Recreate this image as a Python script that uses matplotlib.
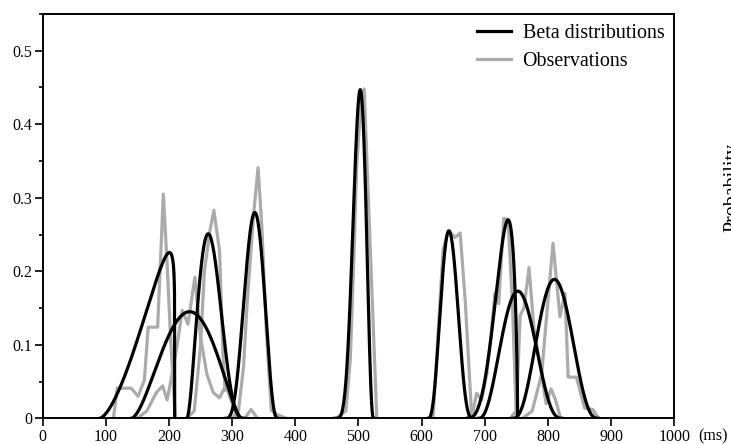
import numpy as np
import matplotlib
matplotlib.use("Agg")
import matplotlib.pyplot as plt
from matplotlib.ticker import MultipleLocator

# fitted beta components: support [lo, hi], shapes a/b, peak height
beta_lo = [90, 140, 228, 289, 462, 610, 672, 690, 744]
beta_hi = [209, 315, 320, 372, 524, 682, 752, 822, 880]
beta_a = [2.6, 2.8, 3.0, 4.5, 6.0, 4.0, 4.0, 3.6, 3.8]
beta_b = [1.12, 2.6, 4.4, 3.7, 3.6, 4.5, 1.7, 3.9, 3.95]
beta_peak = [0.2255, 0.145, 0.251, 0.280, 0.447, 0.255, 0.270, 0.173, 0.189]

# observed histograms (ms, probability)
obs1_ms = [112, 118, 140, 151, 161, 167, 182, 191, 197, 203, 210]
obs1_p = [0, 0.041, 0.041, 0.030, 0.052, 0.124, 0.124, 0.305, 0.21, 0.10, 0]
obs2_ms = [150, 165, 180, 190, 197, 205, 213, 221, 230, 241, 250, 260, 270, 280, 290, 300, 310]
obs2_p = [0, 0.01, 0.035, 0.044, 0.025, 0.06, 0.10, 0.147, 0.128, 0.192, 0.11, 0.06, 0.035, 0.028, 0.045, 0.02, 0]
obs3_ms = [228, 240, 250, 256, 265, 271, 280, 286, 289, 294, 299, 307, 320, 330, 340]
obs3_p = [0, 0.01, 0.10, 0.20, 0.256, 0.283, 0.228, 0.075, 0.038, 0.04, 0.029, 0, 0, 0.012, 0]
obs4_ms = [300, 310, 318, 323, 329, 334, 341, 347, 354, 362, 371, 386]
obs4_p = [0, 0.01, 0.07, 0.147, 0.22, 0.278, 0.341, 0.26, 0.12, 0.011, 0.005, 0]
obs5_ms = [465, 480, 487, 492, 497, 503, 509, 529]
obs5_p = [0, 0.01, 0.08, 0.20, 0.34, 0.42, 0.448, 0]
obs6_ms = [618, 634, 642, 653, 661, 669, 679]
obs6_p = [0, 0.229, 0.255, 0.246, 0.252, 0.16, 0.007]
obs7_ms = [672, 681, 687, 695, 703, 710, 716, 722, 730, 737, 744, 750]
obs7_p = [0, 0.008, 0.034, 0.025, 0.06, 0.115, 0.17, 0.156, 0.272, 0.27, 0.15, 0]
obs8_ms = [740, 750, 756, 762, 770, 778, 788, 797, 805, 812, 820]
obs8_p = [0, 0.01, 0.14, 0.15, 0.205, 0.12, 0.07, 0.02, 0.04, 0.025, 0]
obs9_ms = [760, 775, 790, 800, 808, 819, 827, 832, 845, 858, 871, 880]
obs9_p = [0, 0.01, 0.06, 0.16, 0.238, 0.138, 0.17, 0.056, 0.056, 0.014, 0.012, 0]

obs_ms = [obs1_ms, obs2_ms, obs3_ms, obs4_ms, obs5_ms, obs6_ms, obs7_ms, obs8_ms, obs9_ms]
obs_p = [obs1_p, obs2_p, obs3_p, obs4_p, obs5_p, obs6_p, obs7_p, obs8_p, obs9_p]

plt.rcParams['font.family'] = ['Liberation Serif', 'DejaVu Serif']

fig = plt.figure(figsize=(7.31, 4.44), dpi=100)
ax = fig.add_axes([0.0584, 0.0579, 0.864, 0.9106])

grey = '#ababab'
for i in range(len(obs_ms)):
    ax.plot(obs_ms[i], obs_p[i], color=grey, lw=2.3, zorder=2,
            label='Observations' if i == 0 else None)

for i in range(len(beta_lo)):
    lo, hi, a, b = beta_lo[i], beta_hi[i], beta_a[i], beta_b[i]
    x = np.linspace(lo, hi, 400)
    t = (x - lo) / (hi - lo)
    f = t ** (a - 1) * (1 - t) ** (b - 1)
    f = f / f.max() * beta_peak[i]
    ax.plot(x, f, color='black', lw=2.3, zorder=3,
            label='Beta distributions' if i == 0 else None)

ax.set_xlim(0, 1000)
ax.set_ylim(0, 0.55)
ax.xaxis.set_major_locator(MultipleLocator(100))
ax.yaxis.set_minor_locator(MultipleLocator(0.05))
ax.set_yticks([0, 0.1, 0.2, 0.3, 0.4, 0.5])
ax.set_yticklabels(['0', '0.1', '0.2', '0.3', '0.4', '0.5'])

ax.tick_params(axis='both', which='major', direction='out', length=5.5, width=1.2,
               labelsize=11.5, colors='black')
ax.tick_params(axis='x', pad=2)
ax.tick_params(axis='y', pad=2)
ax.tick_params(axis='y', which='minor', direction='out', length=3, width=1.2)
ax.tick_params(top=False, right=False)
for s in ax.spines.values():
    s.set_linewidth(1.4)

handles, labels = ax.get_legend_handles_labels()
order = [labels.index('Beta distributions'), labels.index('Observations')]
ax.legend([handles[j] for j in order], [labels[j] for j in order],
          loc='upper right', frameon=False, fontsize=14.4,
          handlelength=1.7, handletextpad=0.6, labelspacing=0.45,
          borderaxespad=0.1)

fig.text(0.955, 0.0175, '(ms)', ha='left', va='center', fontsize=11.5)
fig.text(0.989, 0.577, 'Probability', rotation=90, ha='left', va='center', fontsize=14.4)

fig.savefig('out.png', dpi=100)
